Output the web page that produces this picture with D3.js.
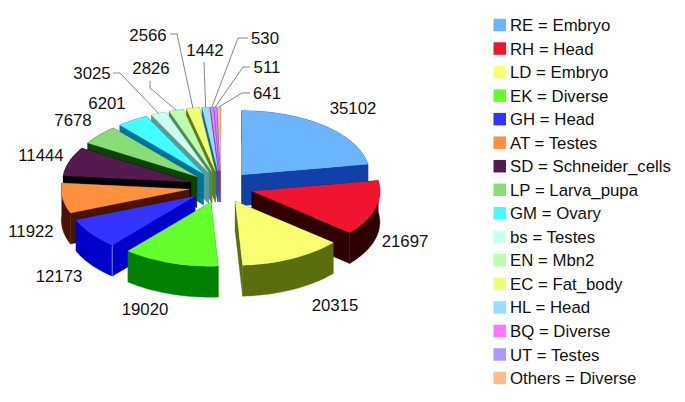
<!DOCTYPE html>
<html>
<head>
<meta charset="utf-8">
<script src="https://cdn.jsdelivr.net/npm/d3@7"></script>
<style>
  html, body { margin: 0; padding: 0; background: #fff; }
  text { font-family: "Liberation Sans", Arial, sans-serif; fill: #111; }
</style>
</head>
<body>
<div id="vis-parent"></div>
<script>
// Chart data, clockwise from twelve o'clock
var libraries = ['RE', 'RH', 'LD', 'EK', 'GH', 'AT', 'SD', 'LP', 'GM', 'bs', 'EN', 'EC', 'HL', 'BQ', 'UT', 'Others'];
var tissues = ['Embryo', 'Head', 'Embryo', 'Diverse', 'Head', 'Testes', 'Schneider_cells', 'Larva_pupa', 'Ovary', 'Testes', 'Mbn2', 'Fat_body', 'Head', 'Diverse', 'Testes', 'Diverse'];
var counts = [35102, 21697, 20315, 19020, 12173, 11922, 11444, 7678, 6201, 3025, 2826, 2566, 1442, 530, 511, 641];

var topColors = ['#6bb5ff', '#f0142e', '#f8ff70', '#66ff2e', '#3333ff', '#ff9040', '#551a50', '#88dd77', '#44ffff', '#ccffee', '#bbffaa', '#eeff77', '#99ddff', '#ff77ff', '#aa99ff', '#ffbb88'];
var sideColors = ['#1040a8', '#2e0000', '#5a6e10', '#008000', '#0000c8', '#4a1400', '#000000', '#0a4400', '#0070a0', '#5a9a90', '#508860', '#667a10', '#1f5fa8', '#8030c0', '#5040c0', '#a06040'];

// Value labels, placed by hand like the original
var labelSpots = [[353, 108], [405, 241], [335, 305], [145, 309], [59, 276], [31, 231], [41, 155], [73, 120], [107, 103], [92, 73], [151, 68], [148, 35], [205, 50], [265, 38], [267, 67], [267, 93]];
// Elbows for the leader lines of the thin slices: [line start, elbow]
var leaderElbows = {
  9: [[113, 73], [120, 73]],
  10: [[150, 81], [150, 88]],
  11: [[170, 34], [177, 34]],
  12: [[204, 62], [204, 62]],
  13: [[248, 38], [238, 38]],
  14: [[250, 67], [243, 67]],
  15: [[250, 93], [242, 93]]
};

var width = 685,
    height = 402;

// Pie size
var cx = 221,
    cy = 187,
    rx = 128,
    ry = 64,
    explode = 32,
    depth = 31;

var svg = d3.select('#vis-parent').append('svg')
  .attr('width', width)
  .attr('height', height)
  .style('display', 'block');

var slices = d3.pie().sort(null).value(function(d) { return d; })(counts);

slices.forEach(function(s, i) {
  var mid = (s.startAngle + s.endAngle) / 2;
  s.index = i;
  s.mid = mid;
  s.ax = cx + explode * Math.sin(mid);
  s.ay = cy - explode * Math.cos(mid) * ry / rx;
  s.top = topColors[i];
  s.side = sideColors[i];
});

function rim(s, a) {
  return [s.ax + rx * Math.sin(a), s.ay - ry * Math.cos(a)];
}

function rimPoints(s) {
  var n = Math.max(2, Math.ceil((s.endAngle - s.startAngle) / 0.03));
  return d3.range(n + 1).map(function(k) {
    return rim(s, s.startAngle + (s.endAngle - s.startAngle) * k / n);
  });
}

function drop(p) {
  return [p[0], p[1] + depth];
}

var line = d3.line();

// Painter's order: back slices first
var ordered = slices.slice().sort(function(a, b) {
  return Math.cos(b.mid) - Math.cos(a.mid);
});

var pie = svg.append('g').attr('class', 'pie');

ordered.forEach(function(s) {
  var g = pie.append('g').attr('class', 'slice');
  var apex = [s.ax, s.ay];
  var arc = rimPoints(s);
  var first = arc[0],
      last = arc[arc.length - 1];

  // Cut faces
  [first, last].forEach(function(p) {
    g.append('path')
      .attr('d', line([apex, p, drop(p), drop(apex)]) + 'Z')
      .attr('fill', s.side)
      .attr('stroke', s.side)
      .attr('stroke-width', 0.4);
  });

  // Outer wall
  g.append('path')
    .attr('d', line(arc.concat(arc.map(drop).reverse())) + 'Z')
    .attr('fill', s.side)
    .attr('stroke', s.side)
    .attr('stroke-width', 0.4);

  // Light edge at the corner of the blue slice
  if (libraries[s.index] == 'GH') {
    g.append('path')
      .attr('d', line([first, drop(first)]))
      .attr('stroke', '#8f8fff')
      .attr('stroke-width', 0.8);
  }

  // Top
  g.append('path')
    .attr('d', line([apex].concat(arc)) + 'Z')
    .attr('fill', s.top)
    .attr('stroke', s.top)
    .attr('stroke-width', 0.3);
});

// Leader lines
var leaders = svg.append('g').attr('class', 'leaders');
slices.forEach(function(s, i) {
  if (!leaderElbows[i]) return;
  leaders.append('path')
    .attr('d', line(leaderElbows[i].concat([rim(s, s.mid)])))
    .attr('fill', 'none')
    .attr('stroke', '#777')
    .attr('stroke-width', 0.9);
});

// Value labels
svg.append('g').selectAll('text')
  .data(counts).enter()
  .append('text')
    .attr('x', function(d, i) { return labelSpots[i][0]; })
    .attr('y', function(d, i) { return labelSpots[i][1]; })
    .attr('dy', '0.36em')
    .attr('text-anchor', 'middle')
    .attr('font-size', 16.8)
    .text(function(d) { return d; });

// Legend
var legendY = d3.scalePoint()
  .domain(libraries)
  .range([25, 378]);

var legend = svg.append('g').attr('class', 'legend')
  .selectAll('g')
  .data(libraries).enter()
  .append('g')
    .attr('transform', function(d) { return 'translate(493.5,' + legendY(d) + ')'; });

legend.append('rect')
  .attr('y', -6.25)
  .attr('width', 12.5)
  .attr('height', 12.5)
  .attr('fill', function(d, i) { return topColors[i]; });

legend.append('text')
  .attr('x', 16.5)
  .attr('dy', '0.36em')
  .attr('font-size', 16.8)
  .text(function(d, i) { return d + ' = ' + tissues[i]; });
</script>
</body>
</html>
